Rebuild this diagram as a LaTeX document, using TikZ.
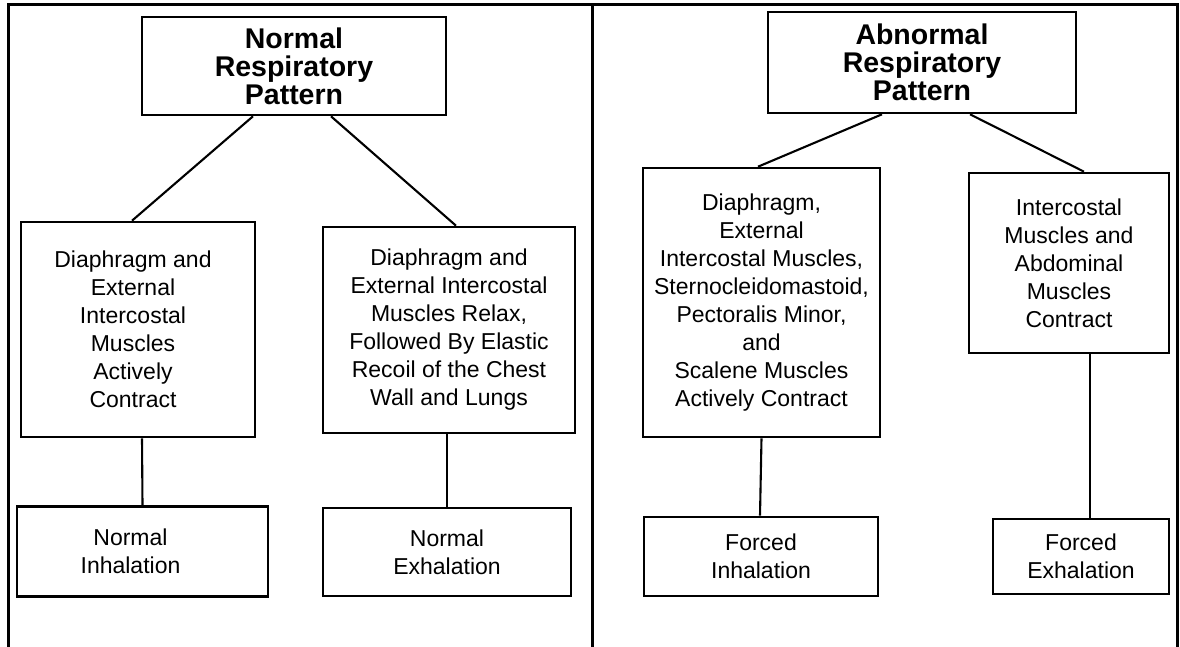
\documentclass[tikz,border=0pt]{standalone}
\usepackage{fontspec}
\setmainfont{Liberation Sans}
\begin{document}
\begin{tikzpicture}[x=1pt,y=-1pt,
  bodyfont/.style={font=\fontsize{23}{28}\selectfont},
  box/.style={draw, line width=2.6pt, inner sep=0pt, align=center, bodyfont},
  titlebox/.style={box, font=\fontsize{28.5}{28}\selectfont\bfseries},
  inlabel/.style={align=center, inner sep=0pt, bodyfont},
  link/.style={line width=2.1pt},
  frame/.style={line width=3pt}]
\useasboundingbox (0,0) rectangle (1180,647);

% outer frame with the divider between the two panels
\draw[frame] (8,647) -- (8,5) -- (1177,5) -- (1177,647);
\draw[frame] (592.5,5) -- (592.5,647);

% normal pattern
\node[titlebox, minimum width=304, minimum height=98] (nTop) at (294,66)
  {Normal\\Respiratory\\Pattern};
\node[box, minimum width=234, minimum height=215,
  label={[inlabel, xshift=-5pt]center:{Diaphragm and\\External\\Intercostal\\Muscles\\Actively\\Contract}}]
  (nMid1) at (138,329.5) {};
\node[box, minimum width=252, minimum height=206] (nMid2) at (449,330)
  {Diaphragm and\\External Intercostal\\Muscles Relax,\\Followed By Elastic\\Recoil of the Chest\\Wall and Lungs};
\node[box, minimum width=251, minimum height=90,
  label={[inlabel, xshift=-12pt]center:{Normal\\Inhalation}}]
  (nInh) at (142.5,551.5) {};
\node[box, minimum width=248, minimum height=88] (nExh) at (447,552)
  {Normal\\Exhalation};

% abnormal pattern
\node[titlebox, minimum width=308, minimum height=101] (aTop) at (922,62.5)
  {Abnormal\\Respiratory\\Pattern};
\node[box, minimum width=237, minimum height=269] (aMid1) at (761.5,302.5)
  {Diaphragm,\\External\\Intercostal Muscles,\\Sternocleidomastoid,\\Pectoralis Minor,\\and\\Scalene Muscles\\Actively Contract};
\node[box, minimum width=200, minimum height=180] (aMid2) at (1069,263)
  {Intercostal\\Muscles and\\Abdominal\\Muscles\\Contract};
\node[box, minimum width=234, minimum height=79] (aInh) at (761,556.5)
  {Forced\\Inhalation};
\node[box, minimum width=176, minimum height=75] (aExh) at (1081,556.5)
  {Forced\\Exhalation};

% connectors
\draw[link] ([xshift=-41pt]nTop.south) -- ([xshift=-6pt]nMid1.north);
\draw[link] ([xshift=37pt]nTop.south) -- ([xshift=7pt]nMid2.north);
\draw[link] ([xshift=4pt]nMid1.south) -- (nInh.north);
\draw[link] ([xshift=-2pt]nMid2.south) -- (nExh.north);

\draw[link] ([xshift=-40pt]aTop.south) -- ([xshift=-3.5pt]aMid1.north);
\draw[link] ([xshift=48pt]aTop.south) -- ([xshift=15pt]aMid2.north);
\draw[link] (aMid1.south) -- ([xshift=-1pt]aInh.north);
\draw[link] ([xshift=21pt]aMid2.south) -- ([xshift=9pt]aExh.north);
\end{tikzpicture}
\end{document}
